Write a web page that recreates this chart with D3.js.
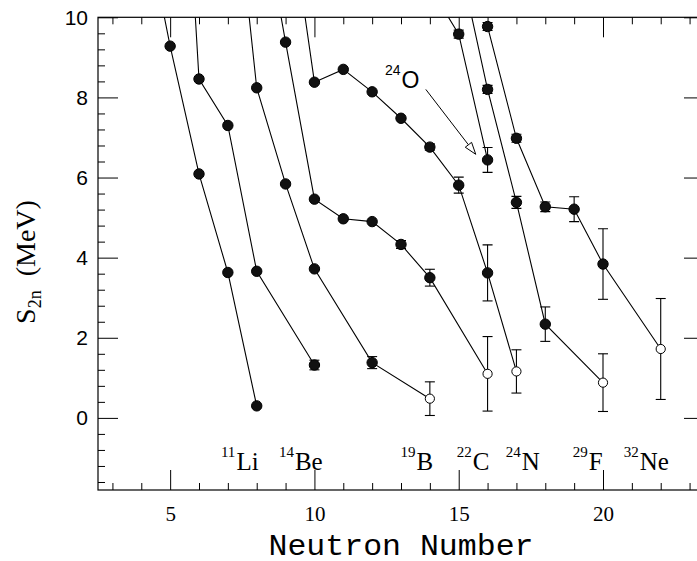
<!DOCTYPE html>
<html>
<head>
<meta charset="utf-8">
<script src="https://cdn.jsdelivr.net/npm/d3@7"></script>
<style>
  body { margin: 0; background: #fff; }
  svg { display: block; }
</style>
</head>
<body>
<div id="chart"></div>
<script>
// isotopic chains: [neutron number, S2n (MeV), error, open circle]
var liChain = [[4, 12.9, 0, 0], [5, 9.28, 0, 0], [6, 6.09, 0, 0], [7, 3.63, 0, 0], [8, 0.30, 0, 0]];
var beChain = [[5, 20.6, 0, 0], [6, 8.46, 0, 0], [7, 7.30, 0, 0], [8, 3.66, 0, 0], [10, 1.32, 0.12, 0]];
var bChain = [[7, 15.0, 0, 0], [8, 8.24, 0, 0], [9, 5.84, 0, 0], [10, 3.72, 0, 0], [12, 1.38, 0.15, 0], [14, 0.48, 0.42, 1]];
var cChain = [[8, 13.4, 0, 0], [9, 9.38, 0, 0], [10, 5.46, 0, 0], [11, 4.97, 0, 0], [12, 4.90, 0, 0], [13, 4.33, 0.1, 0], [14, 3.50, 0.21, 0], [16, 1.10, 0.93, 1]];
var nChain = [[9, 13.4, 0, 0], [10, 8.38, 0, 0], [11, 8.70, 0, 0], [12, 8.14, 0, 0], [13, 7.48, 0, 0], [14, 6.76, 0.08, 0], [15, 5.81, 0.2, 0], [16, 3.62, 0.7, 0], [17, 1.16, 0.54, 1]];
var oChain = [[14, 10.76, 0, 0], [15, 9.58, 0.1, 0], [16, 6.44, 0.31, 0]];
var fChain = [[15, 11.5, 0, 0], [16, 8.20, 0.1, 0], [17, 5.38, 0.15, 0], [18, 2.34, 0.43, 0], [20, 0.88, 0.72, 1]];
var neChain = [[16, 9.77, 0.1, 0], [17, 6.98, 0.1, 0], [18, 5.27, 0.12, 0], [19, 5.21, 0.31, 0], [20, 3.84, 0.88, 0], [22, 1.72, 1.26, 1]];

var chains = [liChain, beChain, bChain, cChain, nChain, oChain, fChain, neChain];

// labels under the chains: mass number, element, neutron number where the label starts
var labelMass = ["11", "14", "19", "22", "24", "29", "32"];
var labelElem = ["Li", "Be", "B", "C", "N", "F", "Ne"];
var labelN = [6.76, 8.77, 12.98, 14.93, 16.63, 18.95, 20.72];

var xMajor = [5, 10, 15, 20];
var yMajor = [0, 2, 4, 6, 8, 10];

var width = 697, height = 561;
var padL = 98, padR = 704, padT = 17.3, padB = 490;
var serif = "Liberation Serif, DejaVu Serif, serif";

var svg = d3.select("#chart").append("svg")
  .attr("width", width)
  .attr("height", height);

var x = d3.scaleLinear().domain([2.5, 23.5]).range([padL, padR]);
var y = d3.scaleLinear().domain([-1.8, 10]).range([padB, padT]);

svg.append("defs").append("clipPath")
  .attr("id", "plot-clip")
  .append("rect")
  .attr("x", padL).attr("y", padT)
  .attr("width", padR - padL).attr("height", padB - padT);

// frame
svg.append("rect")
  .attr("x", padL).attr("y", padT)
  .attr("width", padR - padL).attr("height", padB - padT)
  .attr("fill", "none")
  .attr("stroke", "#000")
  .attr("stroke-width", 1.2);

var xMinor = d3.range(3, 24).filter(function(d) { return xMajor.indexOf(d) < 0; });
var yMinor = d3.range(-1.6, 10, 0.4).map(function(d) { return +d.toFixed(1); })
  .filter(function(d) { return yMajor.indexOf(d) < 0; });

function tickAxis(axisFn, scale, vals, size, tx, ty) {
  var g = svg.append("g")
    .attr("transform", "translate(" + tx + "," + ty + ")")
    .call(axisFn(scale).tickValues(vals).tickSize(-size).tickFormat(""));
  g.select(".domain").remove();
  g.selectAll("line").attr("stroke", "#000");
  return g;
}

tickAxis(d3.axisBottom, x, xMinor, 7, 0, padB);
tickAxis(d3.axisTop, x, xMinor, 7, 0, padT);
tickAxis(d3.axisTop, x, xMajor, 20, 0, padT);
tickAxis(d3.axisLeft, y, yMinor, 7, padL, 0);
tickAxis(d3.axisRight, y, yMinor, 7, padR, 0);
tickAxis(d3.axisRight, y, yMajor, 20, padR, 0);

var xAxis = svg.append("g")
  .attr("transform", "translate(0," + padB + ")")
  .call(d3.axisBottom(x).tickValues(xMajor).tickSize(-20).tickPadding(16));
xAxis.select(".domain").remove();
xAxis.selectAll("line").attr("stroke", "#000");
xAxis.selectAll("text")
  .attr("font-family", serif)
  .attr("font-size", 21)
  .attr("fill", "#000");

var yAxis = svg.append("g")
  .attr("transform", "translate(" + padL + ",0)")
  .call(d3.axisLeft(y).tickValues(yMajor).tickSize(-20).tickPadding(10));
yAxis.select(".domain").remove();
yAxis.selectAll("line").attr("stroke", "#000");
yAxis.selectAll("text")
  .attr("font-family", "Liberation Sans")
  .attr("font-size", 21)
  .attr("fill", "#000");

// chains
var plot = svg.append("g").attr("clip-path", "url(#plot-clip)");

var line = d3.line()
  .x(function(d) { return x(d[0]); })
  .y(function(d) { return y(d[1]); });

plot.selectAll("path.chain")
  .data(chains)
  .enter().append("path")
  .attr("class", "chain")
  .attr("d", line)
  .attr("fill", "none")
  .attr("stroke", "#000")
  .attr("stroke-width", 1.1);

var pts = d3.merge(chains);

var bars = plot.selectAll("g.err")
  .data(pts.filter(function(d) { return d[2] > 0; }))
  .enter().append("g")
  .attr("class", "err")
  .attr("stroke", "#000")
  .attr("stroke-width", 1.1);
bars.append("line")
  .attr("x1", function(d) { return x(d[0]); })
  .attr("x2", function(d) { return x(d[0]); })
  .attr("y1", function(d) { return y(d[1] - d[2]); })
  .attr("y2", function(d) { return y(d[1] + d[2]); });
bars.append("line")
  .attr("x1", function(d) { return x(d[0]) - 5; })
  .attr("x2", function(d) { return x(d[0]) + 5; })
  .attr("y1", function(d) { return y(d[1] - d[2]); })
  .attr("y2", function(d) { return y(d[1] - d[2]); });
bars.append("line")
  .attr("x1", function(d) { return x(d[0]) - 5; })
  .attr("x2", function(d) { return x(d[0]) + 5; })
  .attr("y1", function(d) { return y(d[1] + d[2]); })
  .attr("y2", function(d) { return y(d[1] + d[2]); });

plot.selectAll("circle")
  .data(pts)
  .enter().append("circle")
  .attr("cx", function(d) { return x(d[0]); })
  .attr("cy", function(d) { return y(d[1]); })
  .attr("r", function(d) { return d[3] ? 4.6 : 5.2; })
  .attr("fill", function(d) { return d[3] ? "#fff" : "#111"; })
  .attr("stroke", "#000")
  .attr("stroke-width", 1);

// isotope labels
var labels = svg.selectAll("text.iso")
  .data(labelElem)
  .enter().append("text")
  .attr("class", "iso")
  .attr("x", function(d, i) { return x(labelN[i]); })
  .attr("y", y(-1.29))
  .attr("font-family", serif)
  .attr("fill", "#000");
labels.append("tspan")
  .attr("font-size", 15)
  .attr("dy", -12.5)
  .text(function(d, i) { return labelMass[i]; });
labels.append("tspan")
  .attr("font-size", 25)
  .attr("dy", 12.5)
  .attr("dx", 1)
  .text(function(d) { return d; });

// 24O arrow
var arrowFrom = [13.86, 8.20], arrowTo = [15.59, 6.58];
var ax0 = x(arrowFrom[0]), ay0 = y(arrowFrom[1]);
var ax1 = x(arrowTo[0]), ay1 = y(arrowTo[1]);
var ang = Math.atan2(ay1 - ay0, ax1 - ax0);
var hl = 12, hw = 4;
var bx = ax1 - hl * Math.cos(ang), by = ay1 - hl * Math.sin(ang);
svg.append("line")
  .attr("x1", ax0).attr("y1", ay0)
  .attr("x2", bx).attr("y2", by)
  .attr("stroke", "#000").attr("stroke-width", 1);
svg.append("path")
  .attr("d", "M" + ax1 + "," + ay1 +
    "L" + (bx + hw * Math.sin(ang)) + "," + (by - hw * Math.cos(ang)) +
    "L" + (bx - hw * Math.sin(ang)) + "," + (by + hw * Math.cos(ang)) + "Z")
  .attr("fill", "#fff")
  .attr("stroke", "#000")
  .attr("stroke-width", 1);

var oLabel = svg.append("text")
  .attr("x", 385)
  .attr("y", 88)
  .attr("font-family", "Liberation Sans")
  .attr("fill", "#000");
oLabel.append("tspan").attr("font-size", 14).attr("dy", -13).text("24");
oLabel.append("tspan").attr("font-size", 23).attr("dy", 13).attr("dx", 1).text("O");

// axis titles
svg.append("text")
  .attr("x", (padL + 704) / 2)
  .attr("y", 555)
  .attr("text-anchor", "middle")
  .attr("font-family", "Liberation Mono")
  .attr("font-size", 29)
  .attr("textLength", 265)
  .attr("lengthAdjust", "spacingAndGlyphs")
  .attr("fill", "#000")
  .text("Neutron Number");

var yTitle = svg.append("text")
  .attr("transform", "translate(35,262) rotate(-90)")
  .attr("text-anchor", "middle")
  .attr("font-family", serif)
  .attr("font-size", 28)
  .attr("fill", "#000");
yTitle.append("tspan").text("S");
yTitle.append("tspan").attr("font-size", 18).attr("dy", 6).text("2n");
yTitle.append("tspan").attr("dy", -6).text("\u00a0\u00a0(MeV)");
</script>
</body>
</html>
